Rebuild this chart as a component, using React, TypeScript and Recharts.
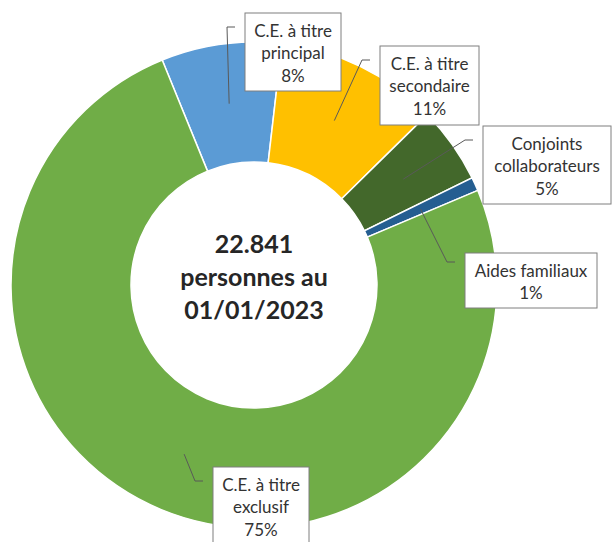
import { PieChart, Pie, Cell } from "recharts";

const CATEGORIES = [
    ["C.E. à titre", "principal"],
    ["C.E. à titre", "secondaire"],
    ["Conjoints", "collaborateurs"],
    ["Aides familiaux"],
    ["C.E. à titre", "exclusif"],
];
const SHARES = [8.0, 10.8, 5.1, 0.9, 75.2];
const CENTER_LINES = ["22.841", "personnes au", "01/01/2023"];

const COLORS = ["#5B9BD5", "#FFC000", "#43682B", "#255E91", "#70AD47"];

// label boxes (layout only): left, top, width, height
const BOXES = [
    { x: 245, y: 13, w: 96, h: 78 },
    { x: 380, y: 46, w: 99, h: 79 },
    { x: 483, y: 126, w: 128, h: 78 },
    { x: 465, y: 253, w: 132, h: 55 },
    { x: 213, y: 467, w: 96, h: 80 },
];
const ELBOW_Y = [27, 60, 140, 262, 481];

const data = CATEGORIES.map((c, i) => ({ name: c.join(" "), lines: c, value: SHARES[i] }));

const RAD = Math.PI / 180;

function renderLabel(props: any) {
    const { cx, cy, midAngle, innerRadius, outerRadius, index, percent } = props;
    const r = (innerRadius + outerRadius) / 2;
    const ax = cx + r * Math.cos(-midAngle * RAD);
    const ay = cy + r * Math.sin(-midAngle * RAD);
    const b = BOXES[index];
    const ey = ELBOW_Y[index];
    const endX = b.x - 10;
    const elbowX = endX - 8;
    const lines = [...data[index].lines, `${Math.round(percent * 100)}%`];
    return (
        <g key={`lbl-${index}`}>
            <polyline
                points={`${ax},${ay} ${elbowX},${ey} ${endX},${ey}`}
                fill="none"
                stroke="#595959"
                strokeWidth={1}
            />
            <rect x={b.x} y={b.y} width={b.w} height={b.h} fill="#ffffff" stroke="#7f7f7f" strokeWidth={1} />
            {lines.map((t, k) => (
                <text
                    key={k}
                    x={b.x + b.w / 2}
                    y={b.y + 17 + k * 22.5}
                    textAnchor="middle"
                    dominantBaseline="central"
                    fontFamily="Lato, 'Open Sans', sans-serif"
                    fontSize={17}
                    fill="#333333"
                >
                    {t}
                </text>
            ))}
        </g>
    );
}

export default function App() {
    return (
        <div style={{ position: "absolute", left: 0, top: 0, width: 612, height: 542, background: "#fff" }}>
            <PieChart width={612} height={542} margin={{ top: 0, right: 0, bottom: 0, left: 0 }}>
                <Pie
                    data={data}
                    dataKey="value"
                    cx={254}
                    cy={285}
                    innerRadius={123}
                    outerRadius={243}
                    startAngle={112.2}
                    endAngle={-247.8}
                    stroke="#ffffff"
                    strokeWidth={1.5}
                    label={renderLabel}
                    labelLine={false}
                    isAnimationActive={false}
                >
                    {data.map((d, i) => (
                        <Cell key={d.name} fill={COLORS[i]} />
                    ))}
                </Pie>
                <text
                    x={254}
                    textAnchor="middle"
                    fontFamily="Lato, 'Open Sans', sans-serif"
                    fontWeight="bold"
                    fontSize={25}
                    fill="#262626"
                >
                    {CENTER_LINES.map((t, k) => (
                        <tspan key={k} x={254} y={253 + k * 33}>
                            {t}
                        </tspan>
                    ))}
                </text>
            </PieChart>
        </div>
    );
}
